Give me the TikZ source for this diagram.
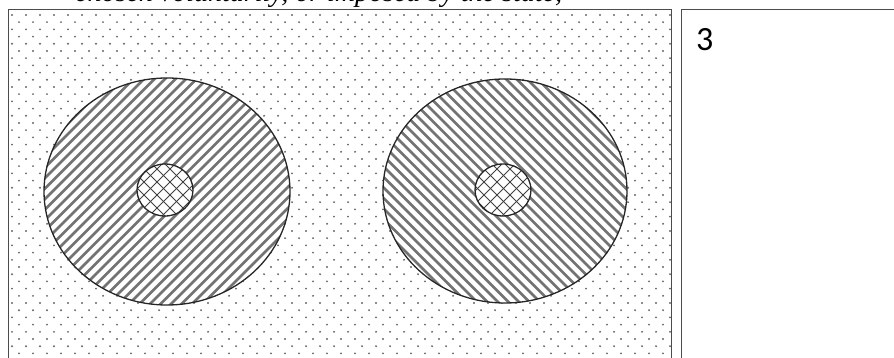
\documentclass[tikz,border=0pt]{standalone}
\usepackage{fontspec}
\newfontfamily\topfont{Liberation Serif}
\newfontfamily\labelfont{Carlito}
\begin{document}
\begin{tikzpicture}[x=1pt,y=-1pt,
  frameline/.style={draw=black!70,line width=1pt},
  dotstyle/.style={fill=black!60},
  hatchline/.style={draw=black!55,line width=2.8pt},
  crossline/.style={draw=black!75,line width=0.9pt},
  outline/.style={draw=black!85,line width=1.3pt}]
\useasboundingbox (0,0) rectangle (894,358);
% cut-off caption at the top
\node[anchor=base west,inner sep=0] (caption) at (75,2) {\topfont\itshape\fontsize{28}{33}\selectfont chosen voluntarily, or imposed by the state,};
% dotted panel
\begin{scope}
  \clip (8,10) rectangle (671,360);
  \foreach \r in {0,...,47} {
    \pgfmathsetmacro{\yy}{15+\r*7.2}
    \pgfmathsetmacro{\off}{mod(\r,2)*7}
    \foreach \xx in {12,26,...,670} {
      \fill[dotstyle] (\xx+\off,\yy) circle (1.05pt);
    }
  }
\end{scope}
\draw[frameline] (8,362) -- (8,10) -- (671,10) -- (671,362);
% right panel
\draw[frameline] (681,362) -- (681,10) -- (896,10);
\node[anchor=north west,inner sep=0,font=\labelfont\fontsize{34}{40}\selectfont] (num) at (696,28) {3};
% left ellipse
\fill[white] (167,191.5) ellipse (123 and 113.5);
\begin{scope}
  \clip (167,191.5) ellipse (123 and 113.5);
  \foreach \c in {118,128.5,...,610} {
    \draw[hatchline] (\c-310,310) -- (\c-70,70);
  }
\end{scope}
\fill[white] (165,190) ellipse (28 and 26);
\begin{scope}
  \clip (165,190) ellipse (28 and 26);
  \foreach \c in {300,313,...,430} {
    \draw[crossline] (\c-225,225) -- (\c-155,155);
  }
  \foreach \c in {-90,-77,...,50} {
    \draw[crossline] (\c+155,155) -- (\c+225,225);
  }
\end{scope}
\draw[outline] (167,191.5) ellipse (123 and 113.5);
\draw[outline] (165,190) ellipse (28 and 26);
% right ellipse
\fill[white] (505,191) ellipse (122 and 112);
\begin{scope}
  \clip (505,191) ellipse (122 and 112);
  \foreach \c in {70,80.5,...,560} {
    \draw[hatchline] (\c+70,70) -- (\c+310,310);
  }
\end{scope}
\fill[white] (503,190) ellipse (28 and 26);
\begin{scope}
  \clip (503,190) ellipse (28 and 26);
  \foreach \c in {640,653,...,770} {
    \draw[crossline] (\c-225,225) -- (\c-155,155);
  }
  \foreach \c in {250,263,...,390} {
    \draw[crossline] (\c+155,155) -- (\c+225,225);
  }
\end{scope}
\draw[outline] (505,191) ellipse (122 and 112);
\draw[outline] (503,190) ellipse (28 and 26);
\end{tikzpicture}
\end{document}
